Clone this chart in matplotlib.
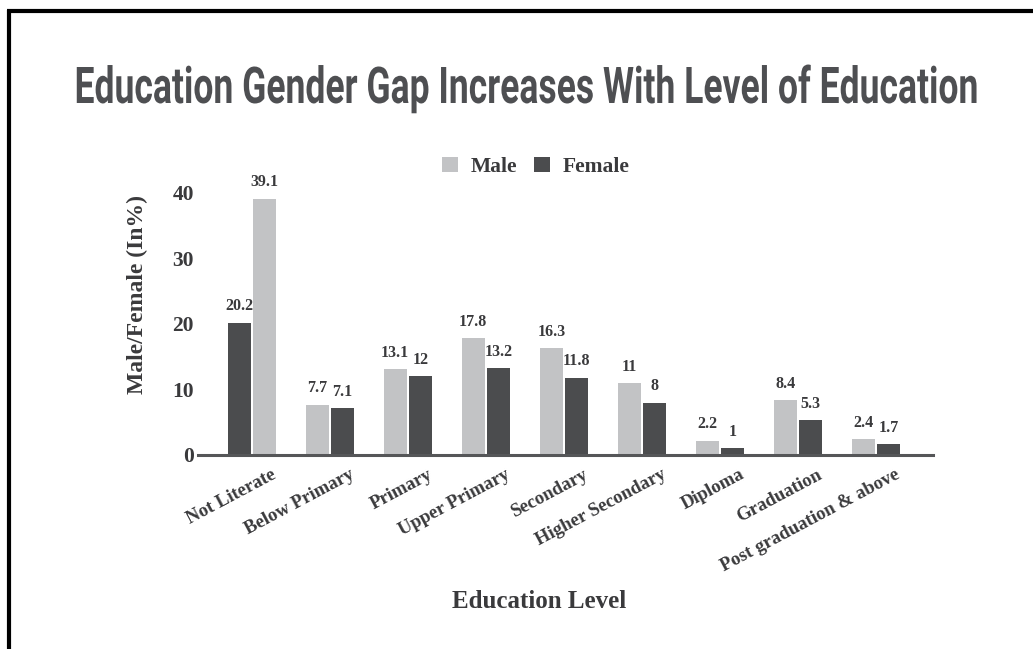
import matplotlib
matplotlib.use('Agg')
import matplotlib.pyplot as plt
from matplotlib.font_manager import FontProperties
from matplotlib.lines import Line2D
from matplotlib.patches import Patch
from matplotlib.patheffects import AbstractPathEffect
import matplotlib.text as mtext
import matplotlib.transforms as mtransforms
import numpy as np

# ---------------- data ----------------
categories = ['Not Literate', 'Below Primary', 'Primary', 'Upper Primary', 'Secondary',
              'Higher Secondary', 'Diploma', 'Graduation', 'Post graduation & above']
male = [39.1, 7.7, 13.1, 17.8, 16.3, 11, 2.2, 8.4, 2.4]
female = [20.2, 7.1, 12, 13.2, 11.8, 8, 1, 5.3, 1.7]
male_labels = ['39.1', '7.7', '13.1', '17.8', '16.3', '11', '2.2', '8.4', '2.4']
female_labels = ['20.2', '7.1', '12', '13.2', '11.8', '8', '1', '5.3', '1.7']
female_first = ['Not Literate']   # categories where the Female bar is drawn on the left
y_ticks = [0, 10, 20, 30, 40]
series_names = ['Male', 'Female']
title = 'Education Gender Gap Increases With Level of Education'
x_title = 'Education Level'
y_title = 'Male/Female (In%)'

# ---------------- style ----------------
W, H = 1033, 649
DPI = 100
LIGHT = '#c2c3c5'
DARK = '#4b4c4e'
TXT = '#3a3a3c'
TITLE_C = '#4e4f52'
SERIF = ['Liberation Serif', 'DejaVu Serif']


class Rescale(AbstractPathEffect):
    """Draw text scaled about a given point (display pixels)."""
    def __init__(self, sx, sy, cx, cy):
        super().__init__()
        self.sx, self.sy, self.cx, self.cy = sx, sy, cx, cy

    def draw_path(self, renderer, gc, tpath, affine, rgbFace=None):
        aff = affine + (mtransforms.Affine2D().translate(-self.cx, -self.cy)
                        .scale(self.sx, self.sy).translate(self.cx, self.cy))
        renderer.draw_path(gc, tpath, aff, rgbFace)


class CondensedText(mtext.Text):
    """A Text drawn condensed (narrower, taller) to imitate a condensed typeface;
    its reported extent matches what is drawn."""
    def __init__(self, *args, sx=1.0, sy=1.0, **kwargs):
        super().__init__(*args, **kwargs)
        self._sx, self._sy = sx, sy

    def _anchor(self, bb):
        cx = 0.5 * (bb.x0 + bb.x1)
        cy = self.get_transform().transform(self.get_position())[1]
        return cx, cy

    def get_window_extent(self, renderer=None, dpi=None):
        bb = super().get_window_extent(renderer, dpi)
        cx, cy = self._anchor(bb)
        return mtransforms.Bbox([[cx + (bb.x0 - cx) * self._sx, cy + (bb.y0 - cy) * self._sy],
                                 [cx + (bb.x1 - cx) * self._sx, cy + (bb.y1 - cy) * self._sy]])

    def draw(self, renderer):
        bb = super().get_window_extent(renderer)
        cx, cy = self._anchor(bb)
        self.set_path_effects([Rescale(self._sx, self._sy, cx, cy)])
        super().draw(renderer)


fig = plt.figure(figsize=(W / DPI, H / DPI), dpi=DPI)
fig.patch.set_facecolor('white')


def px_x(x):
    return x / W


def px_y(y):
    return (H - y) / H


# axes geometry (pixels)
ax_left, ax_right, ax_bottom, ax_top = 198, 933, 455, 160
ax = fig.add_axes([px_x(ax_left), px_y(ax_bottom), (ax_right - ax_left) / W, (ax_bottom - ax_top) / H])
ax.set_facecolor('none')

x = np.arange(len(categories))
bw = 0.29
off = 0.163
swap = np.array([c in female_first for c in categories])
male_x = x + np.where(swap, off, -off)
female_x = x + np.where(swap, -off, off)

bm = ax.bar(male_x, male, width=bw, color=LIGHT, zorder=2)
bf = ax.bar(female_x, female, width=bw, color=DARK, zorder=2)

ax.bar_label(bm, labels=male_labels, padding=6, fontsize=11.5, fontweight='bold',
             color=TXT, family=SERIF)
ax.bar_label(bf, labels=female_labels, padding=6, fontsize=11.5, fontweight='bold',
             color=TXT, family=SERIF)

ax.set_xlim(-0.692, 8.73)
ax.set_ylim(0, 45)

for s in ['top', 'right', 'left']:
    ax.spines[s].set_visible(False)
ax.spines['bottom'].set_color('#555658')
ax.spines['bottom'].set_linewidth(2.2)
ax.spines['bottom'].set_zorder(3)

ax.set_yticks(y_ticks)
ax.set_yticklabels([str(v) for v in y_ticks], fontsize=15.5, fontweight='bold',
                   color=TXT, family=SERIF)
ax.tick_params(axis='y', length=0, pad=3)

ax.set_xticks(x)
ax.set_xticklabels(categories, fontsize=13.5, fontweight='bold', color=TXT,
                   family=SERIF, rotation=28, ha='right', rotation_mode='anchor')
ax.tick_params(axis='x', length=0, pad=0)
shift = mtransforms.ScaledTranslation(19 / DPI, -11 / DPI, fig.dpi_scale_trans)
for lab in ax.get_xticklabels():
    lab.set_transform(lab.get_transform() + shift)
    lab.set_va('top')

# axis titles
fig.text(px_x(539), px_y(602), x_title, ha='center', va='center', fontsize=18,
         fontweight='bold', color=TXT, family=SERIF)
fig.text(px_x(137), px_y(295), y_title, ha='center', va='center', rotation=90,
         fontsize=17, fontweight='bold', color=TXT, family=SERIF)

# legend
handles = [Patch(facecolor=LIGHT, edgecolor='none'), Patch(facecolor=DARK, edgecolor='none')]
leg = fig.legend(handles, series_names, loc='center', bbox_to_anchor=(px_x(536), px_y(167)),
                 ncol=2, frameon=False, handlelength=0.72, handleheight=0.72,
                 handletextpad=0.6, columnspacing=0.8, borderaxespad=0,
                 prop=FontProperties(family=SERIF, weight='bold', size=15.5))
for t in leg.get_texts():
    t.set_color(TXT)

# title: a condensed look from a regular sans, drawn narrower and taller
CAP = 0.711              # cap height of Roboto, in em
target_w, target_cap = 902, 36   # pixels in the reference
tp = FontProperties(family=['Roboto', 'DejaVu Sans'], weight='bold', size=30)
probe = mtext.Text(0, 0, title, fontproperties=tp)
probe.set_figure(fig)
w30 = probe.get_window_extent(fig.canvas.get_renderer()).width
size = 30 * 990 / w30                    # nominal layout fits inside the figure
tp.set_size(size)
sx = target_w / 990
sy = target_cap / (CAP * size * DPI / 72)
tt = CondensedText(px_x(527), px_y(103), title, ha='center', va='baseline',
                   fontproperties=tp, color=TITLE_C, sx=sx, sy=sy,
                   transform=fig.transSubfigure)
tt.set_figure(fig)
fig.texts.append(tt)

# frame lines (top and left)
fig.add_artist(Line2D([px_x(7), 1.0], [px_y(11), px_y(11)], transform=fig.transFigure,
                      color='black', lw=3.0, solid_capstyle='butt'))
fig.add_artist(Line2D([px_x(9), px_x(9)], [0.0, px_y(9.5)], transform=fig.transFigure,
                      color='black', lw=3.0, solid_capstyle='butt'))

fig.savefig('out.png', dpi=DPI, facecolor='white')
